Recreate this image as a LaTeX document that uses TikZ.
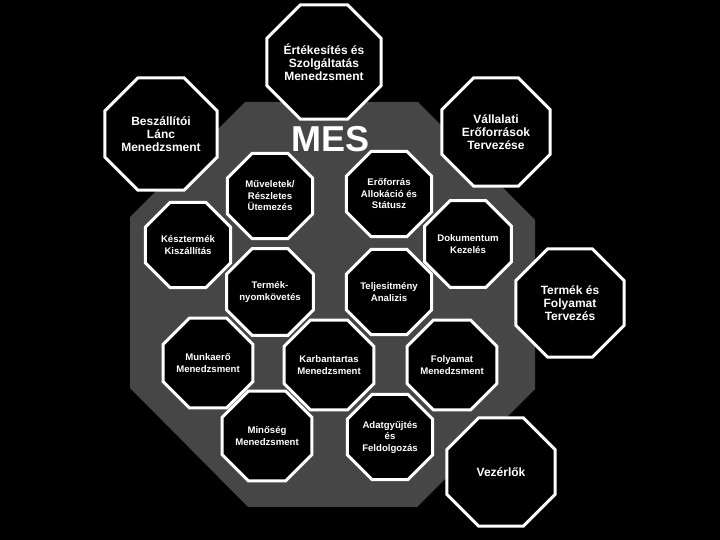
\documentclass[tikz,border=0pt]{standalone}
\usepackage{fontspec}
\setmainfont{Liberation Sans}
\usetikzlibrary{shapes.geometric}
\definecolor{mesgray}{HTML}{464646}
\tikzset{
  octo/.style={regular polygon, regular polygon sides=8,
    draw=white, line width=3bp, fill=black, text=white, inner sep=0pt, outer sep=0pt, align=center},
  bigocto/.style={octo, minimum size=117bp, font=\fontsize{12bp}{13bp}\selectfont\bfseries},
  smallocto/.style={octo, minimum size=92.5bp, font=\fontsize{9.6bp}{11.5bp}\selectfont\bfseries},
}
\begin{document}
\begin{tikzpicture}[x=1bp,y=-1bp]
\useasboundingbox (0,0) rectangle (720,540);
\fill[black] (0,0) rectangle (720,540);
% big MES octagon
\fill[mesgray] (245,102) -- (418,102) -- (535,220) -- (535,389) -- (417,507) -- (248,507) -- (130,388) -- (130,217) -- cycle;
\node[text=white, font=\fontsize{36bp}{40bp}\selectfont\bfseries, inner sep=0pt] (mes) at (331,139) {MES};
% outer
\node[bigocto, minimum size=112bp] (ert) at (324,62) {Értékesítés és\\Szolgáltatás\\Menedzsment};
\node[bigocto] (besz) at (161,134) {Beszállítói\\Lánc\\Menedzsment};
\node[bigocto] (vall) at (496,132) {Vállalati\\Erőforrások\\Tervezése};
\node[bigocto] (term) at (570,303) {Termék és\\Folyamat\\Tervezés};
\node[bigocto] (vez) at (501,472) {Vezérlők};
% inner
\node[smallocto] (muv) at (270,196) {Műveletek/\\Részletes\\Ütemezés};
\node[smallocto] (erof) at (389,194) {Erőforrás\\Allokáció és\\Státusz};
\node[smallocto] (kesz) at (188,245) {Késztermék\\Kiszállítás};
\node[smallocto] (dok) at (468,244) {Dokumentum\\Kezelés};
\node[smallocto] (tnyom) at (270,292) {Termék-\\nyomkövetés};
\node[smallocto] (telj) at (389,292) {Teljesitmény\\Analizis};
\node[smallocto] (munk) at (208,363) {Munkaerő\\Menedzsment};
\node[smallocto] (karb) at (329,365) {Karbantartas\\Menedzsment};
\node[smallocto] (foly) at (452,365) {Folyamat\\Menedzsment};
\node[smallocto] (min) at (267,436) {Minőség\\Menedzsment};
\node[smallocto] (adat) at (390,437) {Adatgyűjtés\\és\\Feldolgozás};
\end{tikzpicture}
\end{document}
